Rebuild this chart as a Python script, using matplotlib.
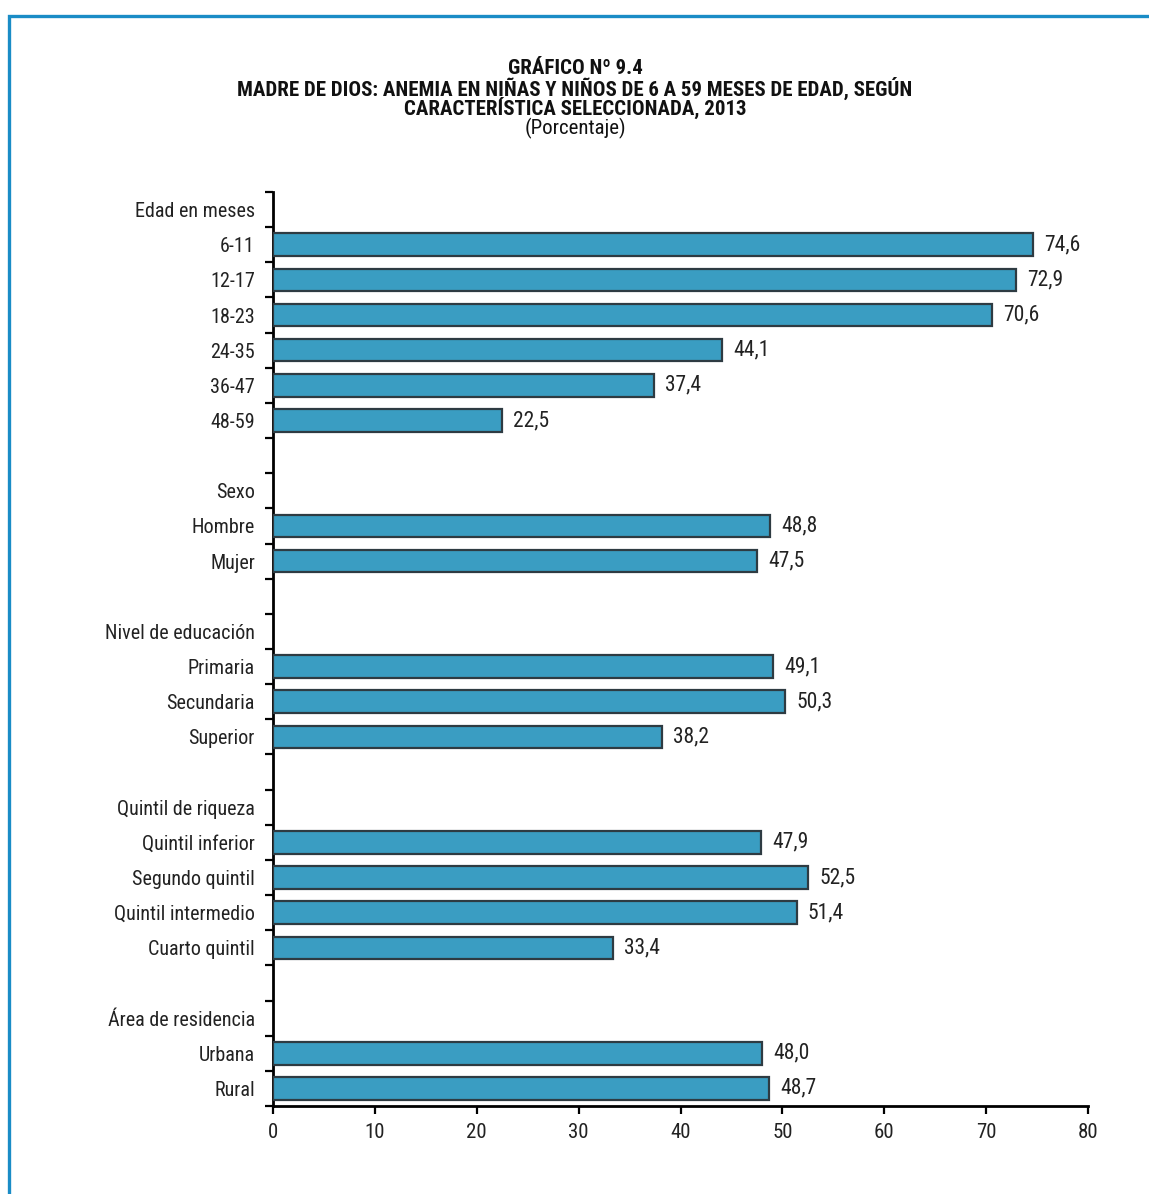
import matplotlib
matplotlib.use("Agg")
import matplotlib.pyplot as plt
from matplotlib import font_manager as fm
from matplotlib import patheffects as pe
from matplotlib.patches import Rectangle
from matplotlib.ticker import FixedLocator


def _w(x):
    if isinstance(x, (int, float)):
        return int(x)
    return {"bold": 700, "heavy": 900, "black": 900, "semibold": 600, "demibold": 600,
            "extra bold": 800, "ultrabold": 800}.get(str(x).lower(), 400)


# prefer a condensed sans (like Arial Narrow) if one is installed, ideally with a bold face
cands = {}
for f in fm.fontManager.ttflist:
    nm = f.name
    low = nm.lower()
    if ("narrow" in low or "condensed" in low) and "mono" not in low and "serif" not in low:
        cands.setdefault(nm, set()).add(_w(f.weight))
priority = ["Liberation Sans Narrow", "Arial Narrow", "Roboto Condensed", "Open Sans Condensed",
            "Noto Sans Condensed", "Archivo Narrow", "PT Sans Narrow"]
narrow = None
for p in priority:
    if p in cands:
        narrow = p
        break
if narrow is None:
    with_bold = sorted([k for k, v in cands.items() if max(v) >= 700])
    if with_bold:
        narrow = with_bold[0]
    elif cands:
        narrow = sorted(cands)[0]
has_bold = bool(narrow) and max(cands[narrow]) >= 700
families = ([narrow] if narrow else []) + ['Liberation Sans', 'DejaVu Sans']
plt.rcParams['font.family'] = families

# ---- data ----
groups = ["Edad en meses", "Sexo", "Nivel de educación", "Quintil de riqueza", "Área de residencia"]
cat_edad = ["6-11", "12-17", "18-23", "24-35", "36-47", "48-59"]
val_edad = [74.6, 72.9, 70.6, 44.1, 37.4, 22.5]
cat_sexo = ["Hombre", "Mujer"]
val_sexo = [48.8, 47.5]
cat_educ = ["Primaria", "Secundaria", "Superior"]
val_educ = [49.1, 50.3, 38.2]
cat_quint = ["Quintil inferior", "Segundo quintil", "Quintil intermedio", "Cuarto quintil"]
val_quint = [47.9, 52.5, 51.4, 33.4]
cat_area = ["Urbana", "Rural"]
val_area = [48.0, 48.7]
x_ticks = [0, 10, 20, 30, 40, 50, 60, 70, 80]

title_lines = ["GRÁFICO Nº 9.4",
               "MADRE DE DIOS: ANEMIA EN NIÑAS Y NIÑOS DE 6 A 59 MESES DE EDAD, SEGÚN",
               "CARACTERÍSTICA SELECCIONADA, 2013"]
subtitle = "(Porcentaje)"

sections = [(groups[0], cat_edad, val_edad), (groups[1], cat_sexo, val_sexo),
            (groups[2], cat_educ, val_educ), (groups[3], cat_quint, val_quint),
            (groups[4], cat_area, val_area)]
labels, values = [], []
for i, (g, cats, vals) in enumerate(sections):
    labels.append(g); values.append(None)
    for c, v in zip(cats, vals):
        labels.append(c); values.append(v)
    if i < len(sections) - 1:
        labels.append(""); values.append(None)

n = len(labels)
W, H = 1149, 1194
fig = plt.figure(figsize=(W / 100, H / 100), dpi=100)
fig.patch.set_facecolor("white")

fig.patches.append(Rectangle((9 / W, -0.1), 1.2, 1 - 16 / H + 0.1, transform=fig.transFigure,
                             fill=False, edgecolor="#1a8cc6", linewidth=2.4, zorder=0))

ax = fig.add_axes([273 / W, 1 - 1106 / H, (1088 - 273) / W, (1106 - 192) / H])

lab_fs = 14.5 if narrow else 13.5
val_fs = 15.5 if narrow else 13.5
tick_fs = 15 if narrow else 13.5
ys = [i for i, v in enumerate(values) if v is not None]
vs = [v for v in values if v is not None]
ax.barh(ys, vs, height=0.64, color="#3a9dc2", edgecolor="#2e3b42", linewidth=1.6, zorder=3)
for y, v in zip(ys, vs):
    ax.text(v + 1.1, y, f"{v:.1f}".replace(".", ","), va="center", ha="left",
            fontsize=val_fs, color="#222222")

ax.set_xlim(0, 80)
ax.set_ylim(n - 0.5, -0.5)
ax.set_xticks(x_ticks)
ax.set_xticklabels([str(t) for t in x_ticks], fontsize=tick_fs, color="#222222")
ax.set_yticks(range(n))
ax.set_yticklabels(labels, fontsize=lab_fs, color="#222222")
ax.yaxis.set_minor_locator(FixedLocator([i - 0.5 for i in range(n + 1)]))
ax.tick_params(axis="y", which="major", length=0, pad=13)
ax.tick_params(axis="y", which="minor", length=6, width=1.6, direction="out")
ax.tick_params(axis="x", which="major", length=6, width=1.6, direction="out", pad=6)
for s in ["top", "right"]:
    ax.spines[s].set_visible(False)
for s in ["left", "bottom"]:
    ax.spines[s].set_linewidth(2)
    ax.spines[s].set_color("black")

title_fs = 15 if narrow else 14.7
effects = [] if (has_bold or not narrow) else [pe.withStroke(linewidth=0.9, foreground="#111111")]
for t, y in zip(title_lines, [68, 88, 108]):
    fig.text(575 / W, 1 - y / H, t, ha="center", va="center",
             fontsize=title_fs, fontweight="bold", color="#111111", path_effects=effects)
fig.text(575 / W, 1 - 128 / H, subtitle, ha="center", va="center", fontsize=15,
         color="#111111")

fig.savefig("out.png", dpi=100, facecolor="white")
